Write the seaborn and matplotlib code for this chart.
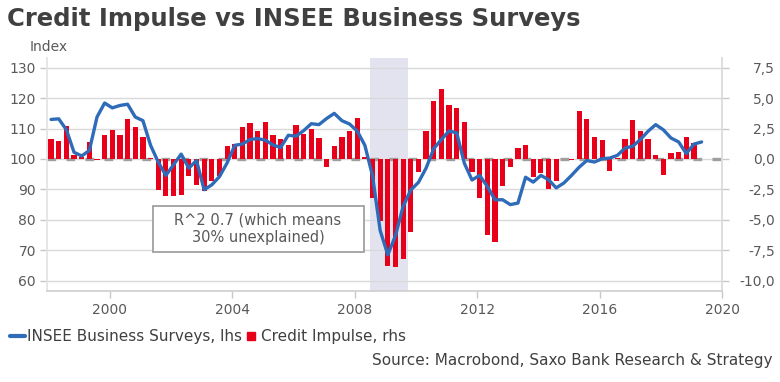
import numpy as np
import pandas as pd
import matplotlib
matplotlib.use("Agg")
import matplotlib.pyplot as plt
import seaborn as sns
from matplotlib.ticker import FuncFormatter
from matplotlib.lines import Line2D
from matplotlib.patches import Rectangle

# Quarterly data, 1998Q1 - 2019Q2
quarters = pd.period_range("1998Q1", "2019Q2", freq="Q")

# INSEE business surveys (lhs, index)
insee = [
    113.0, 113.2, 109.6, 102.2, 101.0, 102.8, 113.8, 118.4, 116.8, 117.6,
    118.0, 113.8, 112.6, 104.5, 99.0, 94.6, 98.1, 101.6, 97.0, 99.5,
    89.9, 91.5, 94.2, 98.7, 104.5, 104.9, 106.4, 106.7, 106.2, 104.6,
    103.8, 107.8, 107.5, 109.3, 111.6, 111.3, 113.3, 115.0, 112.6, 111.5,
    109.2, 104.5, 94.5, 76.5, 68.5, 74.8, 84.4, 89.8, 92.3, 97.0,
    103.4, 106.4, 109.2, 108.6, 98.6, 93.1, 94.6, 91.0, 86.6, 86.6,
    85.0, 85.5, 94.0, 92.4, 94.6, 93.2, 90.5, 92.1, 94.6, 97.3,
    99.5, 99.0, 100.1, 100.3, 101.2, 103.6, 104.2, 106.4, 109.1, 111.3,
    109.6, 106.9, 105.6, 101.8, 104.9, 105.6,
]

# Credit impulse (rhs)
credit_impulse = [
    1.65, 1.50, 2.70, 0.33, 0.20, 1.36, -0.05, 1.99, 2.37, 1.99,
    3.29, 2.59, 1.80, 0.05, -2.57, -3.06, -3.07, -3.00, -1.38, -2.10,
    -2.67, -1.84, -1.36, 1.03, 1.23, 2.65, 2.96, 2.33, 3.01, 1.99,
    1.66, 1.16, 2.76, 2.08, 2.49, 1.71, -0.62, 1.10, 1.78, 2.33,
    3.36, 0.17, -3.22, -5.13, -8.78, -8.90, -8.20, -6.04, -1.09, 2.30,
    4.73, 5.76, 4.44, 4.17, 3.08, -1.04, -3.22, -6.24, -6.83, -2.26,
    -0.65, 0.92, 1.15, -1.50, -1.17, -2.46, -1.81, 0.0, -0.10, 3.92,
    3.30, 1.79, 1.60, -1.00, 0.10, 1.67, 3.21, 2.33, 1.64, 0.30,
    -1.30, 0.47, 0.60, 1.77, 1.28,
]

recession = (2008.5, 2009.73)
year_ticks = [2000, 2004, 2008, 2012, 2016, 2020]
lhs_ticks = [60, 70, 80, 90, 100, 110, 120, 130]
rhs_ticks = [-10.0, -7.5, -5.0, -2.5, 0.0, 2.5, 5.0, 7.5]

# decimal-year position of each quarter (plotted at 2nd month of quarter)
pos = quarters.year + (quarters.quarter - 1) / 4 + 1 / 12
pos = np.asarray(pos, dtype=float)

blue = "#2E6BB8"
red = "#E8001A"
text_grey = "#595959"

sns.set_theme(style="white")
plt.rcParams["font.family"] = ["DejaVu Sans"]

W, H = 780, 382
fig = plt.figure(figsize=(W / 100, H / 100), dpi=100)
ax = fig.add_axes([47 / W, 1 - 290.7 / H, (722 - 47) / W, (290.7 - 58) / H])
ax2 = ax.twinx()
ax.set_zorder(ax2.get_zorder() + 1)
ax.patch.set_visible(False)

# background: recession shading, grid, zero line
ax2.axvspan(*recession, color="#E3E3F0", lw=0, zorder=0)
ax2.axhline(0, color="#9E9E9E", lw=2.4, dashes=(2.6, 3.1), zorder=0.8)

sns.barplot(x=pos[:len(credit_impulse)], y=credit_impulse, native_scale=True,
            ax=ax2, color=red, saturation=1, width=0.68, errorbar=None,
            linewidth=0, zorder=2)
sns.lineplot(x=pos[:len(insee)], y=insee, ax=ax, color=blue, linewidth=2.4)

ax.set_xlim(1997.95, 2020.0)
lo, hi = 56.7, 133.2
ax.set_ylim(lo, hi)
ax2.set_ylim((lo - 100) / 4, (hi - 100) / 4)
ax.set_xticks(year_ticks)
ax.set_xticklabels([str(y) for y in year_ticks])
ax.set_yticks(lhs_ticks)
ax2.set_yticks(rhs_ticks)
ax2.yaxis.set_major_formatter(FuncFormatter(lambda v, p: f"{v:.1f}".replace(".", ",")))
ax.set_xlabel("")
ax.set_ylabel("")
ax2.set_xlabel("")
ax2.set_ylabel("")

ax2.grid(axis="y", color="#D9D9D9", lw=1)
ax2.grid(axis="x", visible=False)
ax.grid(False)

for s in ["top", "right"]:
    ax.spines[s].set_visible(False)
ax.spines["left"].set_color("#E3E3E3")
ax.spines["bottom"].set_color("#D0D0D0")
for s in ["top", "left", "bottom"]:
    ax2.spines[s].set_visible(False)
ax2.spines["right"].set_color("#D9D9D9")

ax.tick_params(axis="y", left=True, length=5, width=1, color="#C8C8C8",
               labelcolor=text_grey, labelsize=10, pad=3)
ax.tick_params(axis="x", bottom=True, length=5, width=1, color="#C8C8C8",
               labelcolor=text_grey, labelsize=10, pad=4)
ax2.tick_params(axis="y", right=True, length=5, width=1, color="#C8C8C8",
                labelcolor=text_grey, labelsize=10, pad=33)
for lab in ax2.get_yticklabels():
    lab.set_horizontalalignment("right")

# annotation box
ax.add_patch(Rectangle((2001.4, 69.3), 6.89, 15.3, facecolor="white",
                       edgecolor="#A0A0A0", lw=1.3, zorder=3))
ax.text(2004.84, 77, "R^2 0.7 (which means\n30% unexplained)", ha="center",
        va="center", fontsize=10.5, color=text_grey, linespacing=1.25, zorder=4)

fig.text(7 / W, 1 - 19 / H, "Credit Impulse vs INSEE Business Surveys",
         fontsize=17.5, fontweight="bold", color="#404040", va="center")
fig.text(30 / W, 1 - 47 / H, "Index", fontsize=10, color=text_grey, va="center")

handles = [Line2D([0], [0], color=blue, lw=3),
           Line2D([0], [0], color=red, marker="s", linestyle="none", markersize=6)]
leg_fs = 11.0
fig.legend(handles, ["INSEE Business Surveys, lhs", "Credit Impulse, rhs"],
           loc="center left", bbox_to_anchor=(5 / W, 1 - 337 / H), ncol=2,
           frameon=False, handlelength=1.0, handletextpad=0.15, columnspacing=0.1,
           fontsize=leg_fs, labelcolor="#404040", borderaxespad=0, borderpad=0.3)
fig.text(773 / W, 1 - 361 / H, "Source: Macrobond, Saxo Bank Research & Strategy",
         ha="right", va="center", fontsize=11, color="#404040")

fig.savefig("out.png", dpi=100)
